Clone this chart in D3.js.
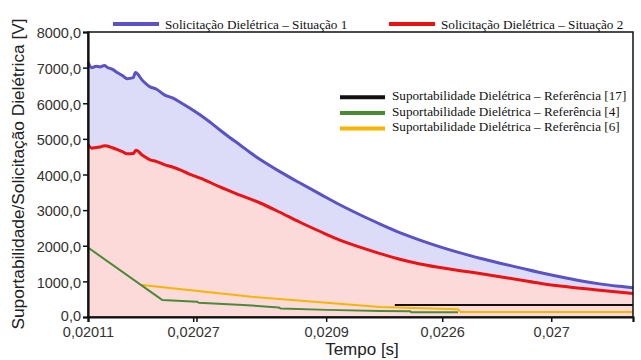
<!DOCTYPE html>
<meta charset="utf-8">
<script src="https://d3js.org/d3.v7.min.js"></script>
<style>
  body { margin: 0; background: #fff; }
  text { font-family: "Liberation Sans", Arial, sans-serif; }
  .leg { font-family: "Liberation Serif", "Times New Roman", serif; font-size: 13.2px; }
</style>
<div id="chart"></div>
<script>
  // x is the position along the (non-uniform) time window, 0..100
  const situacao1 = [[0,7150],[0.7,7000],[1.5,7040],[2.2,7020],[3,7060],[3.5,7010],[4.5,6950],[5.5,6850],[6.3,6780],[7.2,6690],[8.3,6720],[8.7,6860],[10,6640],[11.4,6460],[12.5,6400],[14.1,6230],[15.5,6150],[16.9,6030],[18.5,5880],[20.6,5670],[22.3,5480],[24.2,5250],[26,5040],[27.9,4830],[29.8,4610],[31.6,4420],[35.2,4080],[38.9,3760],[42.6,3450],[46.2,3150],[49.9,2870],[53.6,2610],[57.2,2370],[60.9,2160],[64.6,1970],[68.3,1800],[71.9,1650],[75.6,1510],[79.3,1380],[82.9,1250],[86.6,1130],[90.3,1020],[93.9,930],[97.6,860],[100,820]];
  const situacao2 = [[0,4850],[0.7,4740],[1.5,4760],[2.2,4770],[3,4810],[3.5,4800],[4.5,4750],[5.5,4690],[6.3,4640],[7.2,4580],[8.3,4590],[8.8,4680],[10,4540],[11.4,4410],[12.5,4370],[14.1,4270],[15.5,4210],[16.9,4130],[18.5,4020],[20.6,3900],[24.2,3650],[27.9,3420],[31.6,3200],[35.2,2940],[38.9,2660],[42.6,2400],[46.2,2160],[49.9,1960],[53.6,1780],[57.2,1620],[60.9,1490],[64.6,1390],[68.3,1300],[71.9,1220],[75.6,1130],[79.3,1040],[82.9,950],[86.6,870],[90.3,810],[93.9,750],[100,660]];
  const ref17 = [[56.3,340],[100,340]];
  const ref4 = [[0,1950],[13.6,480],[20,430],[20.3,400],[28.4,340],[35,270],[35.3,240],[43.9,200],[53.6,170],[59.1,160],[59.4,130],[67.9,130]];
  const ref6 = [[9.9,900],[30,570],[53.6,280],[67.9,220],[68.3,140],[100,140]];

  const yTicks = [0,1000,2000,3000,4000,5000,6000,7000,8000];
  const xTicks = [0,19.3,19.9,43.7,65.0,85.0];
  const xTickLabels = ["0,02011","0,02027","","0,0209","0,0226","0,027"];

  const legendTop = [
    {name:"Solicitação Dielétrica – Situação 1", color:"#5a52c6"},
    {name:"Solicitação Dielétrica – Situação 2", color:"#ee1111"}
  ];
  const legendRight = [
    {name:"Suportabilidade Dielétrica – Referência [17]", color:"#111111"},
    {name:"Suportabilidade Dielétrica – Referência [4]", color:"#4a8a35"},
    {name:"Suportabilidade Dielétrica – Referência [6]", color:"#f7b500"}
  ];

  const W = 641, H = 360;
  const margin = {top: 32, right: 8, bottom: 43, left: 88},
      width = W - margin.left - margin.right,
      height = H - margin.top - margin.bottom;

  const svg = d3.select("#chart").append("svg")
      .attr("width", W).attr("height", H);
  const g = svg.append("g")
      .attr("transform", `translate(${margin.left}, ${margin.top})`);

  const x = d3.scaleLinear().domain([0, 100]).range([0, width]);
  const y = d3.scaleLinear().domain([0, 8000]).range([height, 0]);

  const area = d3.area().curve(d3.curveMonotoneX)
      .x(d => x(d[0])).y0(y(0)).y1(d => y(d[1]));
  const smooth = d3.line().curve(d3.curveMonotoneX).x(d => x(d[0])).y(d => y(d[1]));
  const straight = d3.line().x(d => x(d[0])).y(d => y(d[1]));

  // filled areas
  g.append("path").attr("d", area(situacao1)).attr("fill", "#dcdcf8");
  g.append("path").attr("d", area(situacao2)).attr("fill", "#fddada");

  // lines
  const series = [
    {data: ref17, color: legendRight[0].color, w: 2, l: straight},
    {data: ref6, color: legendRight[2].color, w: 2, l: straight},
    {data: ref4, color: legendRight[1].color, w: 2, l: straight},
    {data: situacao1, color: legendTop[0].color, w: 3, l: smooth},
    {data: situacao2, color: legendTop[1].color, w: 3, l: smooth}
  ];
  g.selectAll(".ln").data(series).join("path")
      .attr("fill", "none")
      .attr("stroke", d => d.color)
      .attr("stroke-width", d => d.w)
      .attr("stroke-linejoin", "round")
      .attr("d", d => d.l(d.data));

  // frame (top / right)
  g.append("rect").attr("width", width).attr("height", height)
      .attr("fill", "none").attr("stroke", "#111").attr("stroke-width", 1.5);

  // axes
  const yAxis = g.append("g")
      .call(d3.axisLeft(y).tickValues(yTicks).tickSize(5).tickPadding(2)
        .tickFormat(d => d3.format(".1f")(d).replace(".", ",")));
  yAxis.selectAll("text").attr("dy", "0.4em");
  const xAxis = g.append("g")
      .attr("transform", `translate(0, ${height})`)
      .call(d3.axisBottom(x).tickValues(xTicks).tickSize(5).tickPadding(5)
        .tickFormat((d, i) => xTickLabels[i]));
  [xAxis, yAxis].forEach(a => {
    a.select(".domain").attr("stroke", "#111").attr("stroke-width", 2.2);
    a.selectAll(".tick line").attr("stroke", "#111").attr("stroke-width", 1.5);
    a.selectAll("text").attr("font-size", 14.5).attr("fill", "#333")
      .attr("font-family", "Liberation Sans, Arial, sans-serif");
  });
  yAxis.select(".tick text").attr("dy", "0.25em");

  // axis titles
  svg.append("text").attr("x", 362).attr("y", 355)
      .attr("text-anchor", "middle").attr("font-size", 17).attr("fill", "#222")
      .text("Tempo [s]");
  svg.append("text")
      .attr("transform", `translate(24, 174) rotate(-90)`)
      .attr("text-anchor", "middle").attr("font-size", 17.3).attr("fill", "#222")
      .text("Suportabilidade/Solicitação Dielétrica [V]");

  // legend top
  const lt = svg.append("g");
  const ltx = [113, 389];
  legendTop.forEach((d, i) => {
    lt.append("line").attr("x1", ltx[i]).attr("x2", ltx[i] + 46)
      .attr("y1", 24).attr("y2", 24)
      .attr("stroke", d.color).attr("stroke-width", 4);
    lt.append("text").attr("class", "leg").attr("x", ltx[i] + 52).attr("y", 29)
      .attr("fill", "#111").text(d.name);
  });

  // legend right
  const lr = svg.append("g");
  legendRight.forEach((d, i) => {
    const yy = 97.3 + i * 15.6;
    lr.append("line").attr("x1", 340).attr("x2", 385)
      .attr("y1", yy).attr("y2", yy)
      .attr("stroke", d.color).attr("stroke-width", 4);
    lr.append("text").attr("class", "leg").attr("x", 392).attr("y", yy + 2.6)
      .attr("fill", "#111").text(d.name);
  });
</script>
